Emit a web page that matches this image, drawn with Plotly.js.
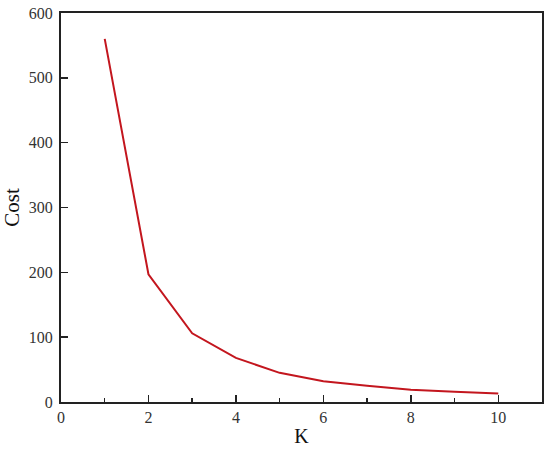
<!DOCTYPE html>
<html>
<head>
<meta charset="utf-8">
<script src="https://cdn.plot.ly/plotly-3.0.1.min.js"></script>
<style>
  body { margin: 0; background: #fff; }
  #costPlot { width: 550px; height: 453px; }
</style>
</head>
<body>
<div id="costPlot"></div>
<script>
// elbow curve: cost for each K
var kValues = [1, 2, 3, 4, 5, 6, 7, 8, 9, 10]
var costValues = [560, 197, 106, 68, 45, 32, 25, 19, 16, 13]

var xTicks = [0, 2, 4, 6, 8, 10]
var yTicks = [0, 100, 200, 300, 400, 500, 600]

var serif = 'Liberation Serif, Times New Roman, serif'

var trace = {
    x: kValues,
    y: costValues,
    type: 'scatter',
    mode: 'lines',
    line: {
        color: '#c3161e',
        width: 2
    }
}

var layout = {
    width: 550,
    height: 453,
    margin: { l: 61, r: 8, t: 13, b: 51 },
    paper_bgcolor: '#fff',
    plot_bgcolor: '#fff',
    showlegend: false,
    font: { family: serif, size: 16, color: '#333' },
    xaxis: {
        range: [0, 11],
        tickvals: xTicks,
        ticktext: xTicks.map(String),
        ticks: 'inside',
        ticklen: 7,
        tickwidth: 1.5,
        tickcolor: '#222',
        minor: { dtick: 1, ticks: 'inside', ticklen: 4, tickwidth: 1.5, tickcolor: '#222' },
        showline: true,
        linecolor: '#222',
        linewidth: 2,
        mirror: true,
        showgrid: false,
        zeroline: false,
        tickfont: { family: serif, size: 16, color: '#333' },
        title: { text: 'K', font: { family: serif, size: 20, color: '#111' }, standoff: 4 }
    },
    yaxis: {
        range: [0, 600],
        tickvals: yTicks,
        ticktext: yTicks.map(String),
        ticks: 'inside',
        ticklen: 7,
        tickwidth: 1.5,
        tickcolor: '#222',
        ticklabelstandoff: 3,
        showline: true,
        linecolor: '#222',
        linewidth: 2,
        mirror: true,
        showgrid: false,
        zeroline: false,
        tickfont: { family: serif, size: 16, color: '#333' },
        title: { text: 'Cost', font: { family: serif, size: 21, color: '#111' }, standoff: 6 }
    }
}

Plotly.newPlot('costPlot', [trace], layout, { staticPlot: true })
</script>
</body>
</html>
